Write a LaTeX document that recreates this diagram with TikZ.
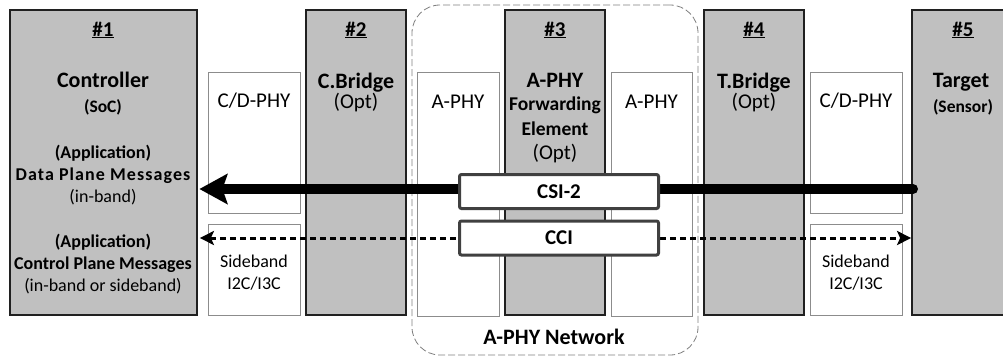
\documentclass[tikz,border=0pt]{standalone}
\usepackage{fontspec}
\setmainfont{Carlito}
\usetikzlibrary{arrows.meta}

\definecolor{unitgray}{RGB}{192,192,192}
\definecolor{unitline}{RGB}{32,32,32}
\definecolor{phyline}{RGB}{140,140,140}
\definecolor{msgline}{RGB}{64,64,64}
\definecolor{netline}{RGB}{128,128,128}

\begin{document}
\begin{tikzpicture}[
  x=1pt, y=-1pt,
  unit/.style={draw=unitline, fill=unitgray, line width=1.8pt, inner sep=0pt,
               minimum width=100pt, minimum height=305pt},
  phy/.style={draw=phyline, fill=white, line width=1pt, inner sep=0pt},
  msg/.style={draw=msgline, fill=white, line width=3pt, rounded corners=2pt,
              inner sep=0pt, minimum width=199pt, minimum height=34pt,
              font=\bfseries\fontsize{21}{25}\selectfont},
  net/.style={draw=netline, line width=0.8pt, dash pattern=on 7pt off 3pt,
              rounded corners=28pt, inner sep=0pt},
  txt/.style={inner sep=0pt, anchor=base},
  numf/.style={txt, font=\bfseries\fontsize{21}{25}\selectfont},
  titlef/.style={txt, font=\bfseries\fontsize{22}{26}\selectfont},
  regf/.style={txt, font=\fontsize{21}{25}\selectfont},
  subf/.style={txt, font=\bfseries\fontsize{17.5}{21}\selectfont},
  appb/.style={txt, font=\bfseries\fontsize{18}{22}\selectfont},
  appr/.style={txt, font=\fontsize{18}{22}\selectfont},
  sidef/.style={txt, font=\fontsize{18}{22}\selectfont},
  fwdf/.style={txt, font=\bfseries\fontsize{19.5}{23}\selectfont},
  dataflow/.style={line width=10pt, line cap=round,
                   -{Stealth[length=28pt, width=30pt, inset=5pt]}},
  ctrlflow/.style={line width=3pt, dash pattern=on 6pt off 4pt,
                   {Stealth[length=14pt, width=14pt, inset=3pt]}-{Stealth[length=14pt, width=14pt, inset=3pt]}}
]
\useasboundingbox (0,0) rectangle (1003,357);
\clip (0,0) rectangle (1003,357);
\fill[white] (0,0) rectangle (1003,357);

% units #1 .. #5
\node[unit, minimum width=187pt] (c1) at (103.5,162.5) {};
\node[unit] (c2) at (356,162.5) {};
\node[unit] (c3) at (555,162.5) {};
\node[unit] (c4) at (754,162.5) {};
\node[unit, minimum width=110pt] (c5) at (967,162.5) {};

% PHY and sideband blocks
\node[phy, minimum width=92pt, minimum height=141pt] (p1) at (254,142.5) {};
\node[phy, minimum width=92pt, minimum height=91pt]  (s1) at (254,269.5) {};
\node[phy, minimum width=82pt, minimum height=244pt] (a1) at (458,194) {};
\node[phy, minimum width=81pt, minimum height=244pt] (a2) at (651.5,194) {};
\node[phy, minimum width=92pt, minimum height=141pt] (p2) at (856,142.5) {};
\node[phy, minimum width=92pt, minimum height=91pt]  (s2) at (856,269.5) {};

% A-PHY network outline
\node[net, minimum width=286pt, minimum height=350pt] (net) at (555,180) {};

% message flows
\coordinate (dsrc) at (913,189);
\coordinate (cline) at (0,238);
\draw[dataflow] (dsrc) -- ([xshift=1.5pt]c1.east |- dsrc);
\draw[ctrlflow] ([xshift=2pt]c1.east |- cline) -- (c5.west |- cline);

\node[msg] (csi) at (559,191.5) {CSI-2};
\node[msg] (cci) at (559,238) {CCI};

% unit #1: controller
\node[numf]   (h1) at (103,36) {\underline{\#1}};
\node[titlef] (n1) at (103,87) {Controller};
\node[subf]   (n1b) at (103,112) {(SoC)};
\node[appb]   (m1) at (103,158) {(Application)};
\node[appb]   (m2) at (103,180) {\addfontfeatures{LetterSpace=6}Data Plane Messages};
\node[appr]   (m3) at (103,202) {(in-band)};
\node[appb]   (m4) at (103,247) {(Application)};
\node[appb]   (m5) at (103,269) {Control Plane Messages};
\node[appr]   (m6) at (103,291) {(in-band or sideband)};

% controller-side PHY
\node[regf]  (p1t) at (254,107) {C/D-PHY};
\node[sidef] (s1a) at (254,267) {Sideband};
\node[sidef] (s1b) at (254,289) {I2C/I3C};

% unit #2: controller bridge
\node[numf]   (h2) at (356,36) {\underline{\#2}};
\node[titlef] (n2) at (356,88) {C.Bridge};
\node[regf]   (n2b) at (356,108) {(Opt)};

% A-PHY links
\node[regf] (a1t) at (458,108) {A-PHY};
\node[regf] (a2t) at (651.5,108) {A-PHY};

% unit #3: forwarding element
\node[numf]   (h3) at (555,36) {\underline{\#3}};
\node[titlef] (n3) at (555,87) {A-PHY};
\node[fwdf]   (n3b) at (555,110) {Forwarding};
\node[fwdf]   (n3c) at (555,135) {Element};
\node[regf]   (n3d) at (555,159) {(Opt)};

% unit #4: target bridge
\node[numf]   (h4) at (754,36) {\underline{\#4}};
\node[titlef] (n4) at (754,88) {T.Bridge};
\node[regf]   (n4b) at (754,108) {(Opt)};

% target-side PHY
\node[regf]  (p2t) at (856,107) {C/D-PHY};
\node[sidef] (s2a) at (856,267) {Sideband};
\node[sidef] (s2b) at (856,289) {I2C/I3C};

% unit #5: target
\node[numf]   (h5) at (963,36) {\underline{\#5}};
\node[titlef] (n5) at (961,87) {Target};
\node[subf]   (n5b) at (963,112) {(Sensor)};

% network caption
\node[titlef] (netl) at (554,344) {A-PHY Network};
\end{tikzpicture}
\end{document}
